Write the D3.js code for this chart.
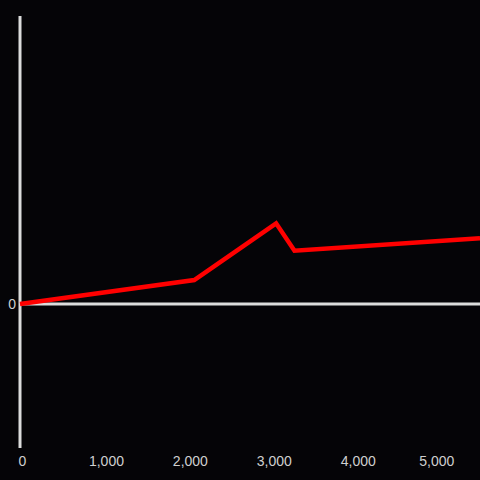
<!DOCTYPE html>
<html lang="en">

<head>
    <meta charset="utf-8">
    <style>
        body { margin: 0; background: #050407; }
    </style>
</head>

<body>
    <script src="https://d3js.org/d3.v7.min.js"></script>
    <div id="my_dataviz"></div>
    <script>
        // data
        var xValues = [0, 2076, 3051, 3270, 5480];
        var yValues = [0, 8.3, 28.0, 18.5, 22.8];
        var xTicks = [0, 1000, 2000, 3000, 4000, 5000];
        var yTicks = [0];

        var width = 480, height = 480;

        var svg = d3.select("#my_dataviz")
            .append("svg")
            .attr("width", width)
            .attr("height", height)
            .style("background", "#050407")
            .style("font-family", "'Liberation Sans', Arial, sans-serif");

        var x = d3.scaleLinear()
            .domain([0, 5480])
            .range([20, 480]);

        var y = d3.scaleLinear()
            .domain([-50, 100])
            .range([448, 16]);

        // y axis line
        svg.append("line")
            .attr("x1", x(0)).attr("x2", x(0))
            .attr("y1", y(100)).attr("y2", y(-50))
            .style("stroke", "#dcdcdc")
            .style("stroke-width", 3);

        // zero line
        svg.append("line")
            .attr("x1", x(0)).attr("x2", width)
            .attr("y1", y(0)).attr("y2", y(0))
            .style("stroke", "#dcdcdc")
            .style("stroke-width", 3);

        // x tick labels at bottom
        var xl = svg.append("g")
            .attr("transform", "translate(0,466)")
            .call(d3.axisBottom(x).tickValues(xTicks).tickSize(0).tickPadding(0).tickFormat(d3.format(",")));
        xl.select(".domain").remove();
        xl.selectAll("text")
            .attr("dy", 0)
            .attr("dx", 2)
            .style("font-size", "14px")
            .style("font-family", "'Liberation Sans', Arial, sans-serif")
            .style("fill", "#cfcfcf");
        // keep labels inside the plot bound
        xl.selectAll("text").each(function () {
            var b = this.getBBox();
            var tx = x(d3.select(this).datum());
            if (tx + b.x + b.width > 454) {
                d3.select(this).attr("dx", 454 - (tx + b.x + b.width) + 2);
            }
        });

        // y tick label
        var yl = svg.append("g")
            .attr("transform", "translate(" + x(0) + ",0)")
            .call(d3.axisLeft(y).tickValues(yTicks).tickSize(0).tickPadding(4));
        yl.select(".domain").remove();
        yl.selectAll("text")
            .style("font-size", "14px")
            .style("font-family", "'Liberation Sans', Arial, sans-serif")
            .style("fill", "#cfcfcf");

        // the red line
        var pts = xValues.map(function (d, i) { return [d, yValues[i]]; });
        svg.append("path")
            .datum(pts)
            .attr("d", d3.line()
                .x(function (d) { return x(d[0]); })
                .y(function (d) { return y(d[1]); }))
            .style("fill", "none")
            .style("stroke", "#ff0000")
            .style("stroke-width", 4.5);
    </script>
</body>

</html>
